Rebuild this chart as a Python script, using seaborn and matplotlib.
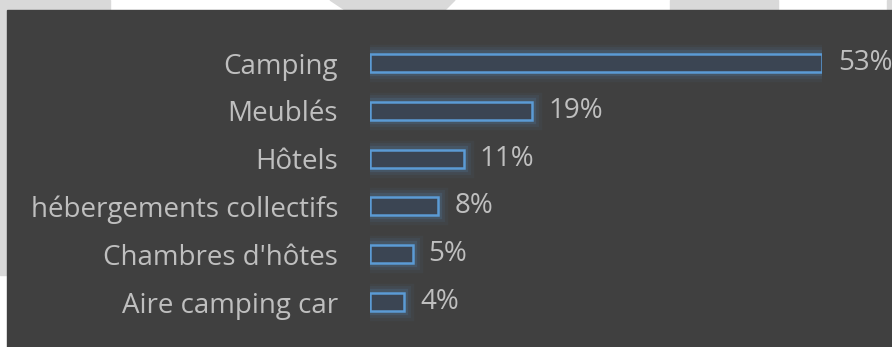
import matplotlib
matplotlib.use("Agg")
import matplotlib.pyplot as plt
import matplotlib.patheffects as pe
from matplotlib.patches import Rectangle, Polygon
import seaborn as sns
import pandas as pd

categories = ["Camping", "Meublés", "Hôtels", "hébergements collectifs",
              "Chambres d'hôtes", "Aire camping car"]
values = [53, 19, 11, 8, 5, 4]
value_labels = ["53%", "19%", "11%", "8%", "5%", "4%"]

sns.set_style("white")
plt.rcParams['font.family'] = ['Open Sans', 'DejaVu Sans']

W, H = 892, 347
fig = plt.figure(figsize=(W / 100, H / 100), dpi=100)
fig.patch.set_facecolor("white")

def fx(px):
    return px / W

def fy(py):
    return 1 - py / H

# light background watermark shapes
gray = "#d9d9d9"
fig.patches.append(Rectangle((fx(0), fy(10)), fx(110), 10 / H, transform=fig.transFigure,
                             color=gray, zorder=0))
fig.patches.append(Rectangle((fx(0), fy(275)), fx(7), 275 / H, transform=fig.transFigure,
                             color=gray, zorder=0))
fig.patches.append(Polygon([(fx(330), fy(0)), (fx(455), fy(0)), (fx(445), fy(10)), (fx(345), fy(10))],
                           closed=True, transform=fig.transFigure, color=gray, zorder=0))
fig.patches.append(Rectangle((fx(670), fy(10)), fx(108), 10 / H, transform=fig.transFigure,
                             color=gray, zorder=0))
fig.patches.append(Rectangle((fx(887), fy(10)), fx(5), 10 / H, transform=fig.transFigure,
                             color=gray, zorder=0))
# dark panel
fig.patches.append(Rectangle((fx(7), 0), fx(885), 337 / H, transform=fig.transFigure,
                             color="#404040", zorder=1))

# bar axes: x from px 370 (0) to 822 (53)
top_px, bot_px = 63 - 23.9, 302 + 23.9
ax = fig.add_axes([fx(370), fy(bot_px), fx(822 - 370), (bot_px - top_px) / H])
ax.set_zorder(5)
ax.patch.set_alpha(0)

df = pd.DataFrame({"cat": categories, "val": values})
sns.barplot(data=df, y="cat", x="val", orient="h", ax=ax, color="#3b4553",
            edgecolor="#5b9bd5", linewidth=1.8, width=0.38, saturation=1)

glow = "#5b9bd5"
for p in ax.patches:
    p.set_path_effects([
        pe.Stroke(linewidth=14, foreground=glow, alpha=0.05),
        pe.Stroke(linewidth=10, foreground=glow, alpha=0.08),
        pe.Stroke(linewidth=6, foreground=glow, alpha=0.15),
        pe.Normal(),
    ])

ax.set_xlim(0, 53)
ax.set_ylim(5.5, -0.5)
ax.set_xlabel("")
ax.set_ylabel("")
ax.set_xticks([])
for s in ax.spines.values():
    s.set_visible(False)
ax.tick_params(axis="y", length=0, pad=23, labelsize=20, labelcolor="#bfbfbf")

for i, (v, lab) in enumerate(zip(values, value_labels)):
    ax.annotate(lab, xy=(v, i), xytext=(16, 0), textcoords="offset pixels",
                ha="left", va="center", color="#bfbfbf", fontsize=20)

fig.savefig("out.png", dpi=100)
